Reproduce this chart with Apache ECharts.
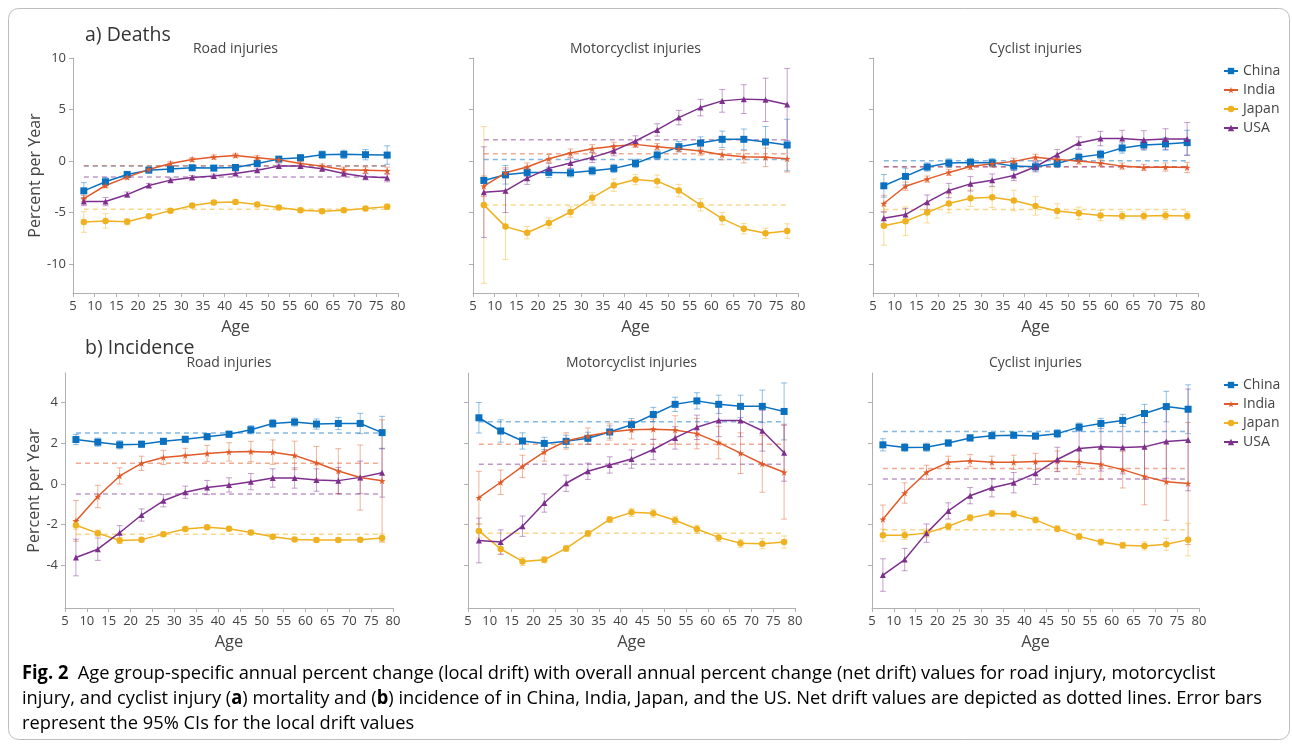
<!DOCTYPE html>
<html>
<head>
<meta charset="utf-8">
<script src="https://cdn.jsdelivr.net/npm/echarts@6/dist/echarts.min.js"></script>
<style>
  html, body { margin: 0; padding: 0; background: #fff; }
  #chart { width: 1292px; height: 747px; }
</style>
</head>
<body>
<div id="chart"></div>
<script>
// ---- data: age-group midpoints and tick labels ----
const ages = [7.5, 12.5, 17.5, 22.5, 27.5, 32.5, 37.5, 42.5, 47.5, 52.5, 57.5, 62.5, 67.5, 72.5, 77.5];
const countries = ['China', 'India', 'Japan', 'USA'];
const ageTicks = [5, 10, 15, 20, 25, 30, 35, 40, 45, 50, 55, 60, 65, 70, 75, 80];
const deathTicks = [-10, -5, 0, 5, 10];
const incidenceTicks = [-4, -2, 0, 2, 4];

// ---- a) Deaths: local drift (% per year) ----
const deathsRoadChina = [-2.89, -2.01, -1.30, -0.88, -0.78, -0.65, -0.68, -0.62, -0.23, 0.19, 0.32, 0.62, 0.65, 0.62, 0.58];
const deathsRoadIndia = [-3.64, -2.37, -1.56, -0.81, -0.23, 0.16, 0.39, 0.55, 0.32, 0.13, -0.23, -0.49, -0.84, -0.88, -0.94];
const deathsRoadJapan = [-5.91, -5.81, -5.88, -5.36, -4.81, -4.32, -4.03, -3.96, -4.22, -4.51, -4.77, -4.87, -4.77, -4.61, -4.42];
const deathsRoadUSA = [-3.93, -3.93, -3.25, -2.37, -1.85, -1.59, -1.46, -1.20, -0.88, -0.49, -0.49, -0.75, -1.20, -1.53, -1.62];
const deathsRoadChinaCI = [0.8, 0.4, 0.3, 0.25, 0.25, 0.25, 0.25, 0.25, 0.25, 0.25, 0.3, 0.35, 0.4, 0.5, 0.9];
const deathsRoadIndiaCI = [0.3, 0.2, 0.2, 0.2, 0.2, 0.2, 0.2, 0.2, 0.2, 0.2, 0.2, 0.2, 0.25, 0.3, 0.35];
const deathsRoadJapanCI = [1.0, 0.7, 0.3, 0.2, 0.2, 0.2, 0.2, 0.2, 0.2, 0.2, 0.2, 0.2, 0.2, 0.2, 0.25];
const deathsRoadUSACI = [0.4, 0.4, 0.25, 0.2, 0.2, 0.2, 0.2, 0.2, 0.2, 0.2, 0.2, 0.2, 0.25, 0.3, 0.4];
const deathsRoadNet = [-0.47, -0.45, -4.68, -1.55];

const deathsMotoChina = [-1.88, -1.33, -1.10, -1.10, -1.14, -0.94, -0.71, -0.23, 0.58, 1.40, 1.75, 2.11, 2.11, 1.85, 1.56];
const deathsMotoIndia = [-2.44, -1.14, -0.58, 0.23, 0.78, 1.20, 1.43, 1.62, 1.40, 1.20, 0.97, 0.62, 0.42, 0.36, 0.23];
const deathsMotoJapan = [-4.25, -6.36, -6.95, -6.01, -4.94, -3.57, -2.34, -1.79, -1.95, -2.86, -4.25, -5.58, -6.56, -7.01, -6.79];
const deathsMotoUSA = [-3.02, -2.89, -1.66, -0.71, -0.19, 0.36, 1.01, 1.95, 3.02, 4.22, 5.19, 5.84, 6.01, 5.94, 5.49];
const deathsMotoChinaCI = [0.3, 0.9, 0.4, 0.5, 0.4, 0.4, 0.4, 0.4, 0.4, 0.5, 0.6, 0.8, 1.0, 1.5, 2.5];
const deathsMotoIndiaCI = [1.0, 0.5, 0.4, 0.4, 0.4, 0.4, 0.4, 0.3, 0.3, 0.3, 0.4, 0.5, 0.6, 0.9, 1.3];
const deathsMotoJapanCI = [7.6, 3.2, 0.6, 0.5, 0.5, 0.5, 0.6, 0.5, 0.6, 0.6, 0.6, 0.6, 0.5, 0.5, 0.7];
const deathsMotoUSACI = [4.4, 2.1, 0.6, 0.5, 0.5, 0.5, 0.5, 0.5, 0.6, 0.7, 0.8, 1.1, 1.4, 2.1, 3.5];
const deathsMotoNet = [0.16, 0.71, -4.25, 2.08];

const deathsCycleChina = [-2.40, -1.49, -0.58, -0.19, -0.13, -0.16, -0.49, -0.55, -0.23, 0.36, 0.65, 1.27, 1.56, 1.66, 1.79];
const deathsCycleIndia = [-4.12, -2.44, -1.75, -1.10, -0.52, -0.26, -0.03, 0.36, 0.16, 0.00, -0.19, -0.49, -0.62, -0.58, -0.62];
const deathsCycleJapan = [-6.27, -5.84, -5.00, -4.12, -3.60, -3.51, -3.83, -4.35, -4.84, -5.06, -5.29, -5.32, -5.32, -5.29, -5.32];
const deathsCycleUSA = [-5.55, -5.19, -3.99, -2.86, -2.21, -1.85, -1.40, -0.55, 0.62, 1.75, 2.18, 2.18, 2.05, 2.14, 2.14];
const deathsCycleChinaCI = [1.1, 0.8, 0.4, 0.4, 0.4, 0.4, 0.4, 0.4, 0.4, 0.4, 0.4, 0.5, 0.5, 0.6, 1.2];
const deathsCycleIndiaCI = [0.8, 0.4, 0.3, 0.3, 0.3, 0.3, 0.3, 0.3, 0.3, 0.3, 0.3, 0.3, 0.3, 0.4, 0.5];
const deathsCycleJapanCI = [1.9, 1.4, 1.0, 0.9, 0.8, 1.0, 1.0, 0.9, 0.7, 0.6, 0.5, 0.4, 0.4, 0.4, 0.4];
const deathsCycleUSACI = [0.6, 0.6, 0.7, 0.7, 0.7, 0.6, 0.5, 0.5, 0.5, 0.6, 0.7, 0.8, 0.9, 1.0, 1.6];
const deathsCycleNet = [0.03, -0.55, -4.71, -0.55];

// ---- b) Incidence: local drift (% per year) ----
const incRoadChina = [2.18, 2.05, 1.92, 1.95, 2.09, 2.19, 2.32, 2.44, 2.66, 2.97, 3.04, 2.94, 2.97, 2.97, 2.52];
const incRoadIndia = [-1.82, -0.62, 0.39, 1.01, 1.30, 1.40, 1.49, 1.57, 1.59, 1.56, 1.40, 1.04, 0.63, 0.31, 0.15];
const incRoadJapan = [-2.03, -2.42, -2.78, -2.74, -2.47, -2.22, -2.13, -2.21, -2.39, -2.60, -2.73, -2.76, -2.76, -2.74, -2.66];
const incRoadUSA = [-3.62, -3.21, -2.40, -1.53, -0.83, -0.41, -0.18, -0.05, 0.11, 0.29, 0.29, 0.19, 0.16, 0.32, 0.55];
const incRoadChinaCI = [0.25, 0.2, 0.2, 0.15, 0.15, 0.15, 0.15, 0.15, 0.2, 0.2, 0.2, 0.25, 0.3, 0.5, 0.8];
const incRoadIndiaCI = [1.0, 0.55, 0.4, 0.35, 0.35, 0.35, 0.4, 0.45, 0.5, 0.6, 0.7, 0.8, 1.1, 1.6, 3.0];
const incRoadJapanCI = [0.2, 0.15, 0.15, 0.1, 0.1, 0.1, 0.1, 0.1, 0.1, 0.1, 0.1, 0.1, 0.1, 0.1, 0.2];
const incRoadUSACI = [0.9, 0.55, 0.35, 0.3, 0.3, 0.3, 0.35, 0.35, 0.4, 0.45, 0.5, 0.55, 0.65, 0.8, 1.2];
const incRoadNet = [2.50, 1.02, -2.47, -0.50];

const incMotoChina = [3.25, 2.60, 2.11, 1.99, 2.09, 2.24, 2.55, 2.91, 3.41, 3.91, 4.08, 3.91, 3.81, 3.81, 3.56];
const incMotoIndia = [-0.68, 0.08, 0.86, 1.57, 2.11, 2.35, 2.55, 2.66, 2.69, 2.65, 2.47, 2.03, 1.51, 0.99, 0.57];
const incMotoJapan = [-2.31, -3.20, -3.81, -3.73, -3.17, -2.44, -1.75, -1.40, -1.44, -1.79, -2.22, -2.63, -2.92, -2.94, -2.86];
const incMotoUSA = [-2.78, -2.86, -2.08, -0.94, 0.03, 0.62, 0.93, 1.22, 1.69, 2.26, 2.78, 3.12, 3.12, 2.61, 1.53];
const incMotoChinaCI = [0.75, 0.55, 0.4, 0.3, 0.3, 0.3, 0.3, 0.3, 0.35, 0.35, 0.4, 0.45, 0.55, 0.8, 1.4];
const incMotoIndiaCI = [1.3, 0.6, 0.55, 0.45, 0.4, 0.4, 0.4, 0.45, 0.5, 0.7, 0.75, 0.8, 1.0, 1.4, 2.3];
const incMotoJapanCI = [0.35, 0.25, 0.2, 0.15, 0.15, 0.15, 0.15, 0.2, 0.2, 0.2, 0.2, 0.2, 0.2, 0.25, 0.3];
const incMotoUSACI = [1.1, 0.6, 0.5, 0.45, 0.4, 0.4, 0.4, 0.45, 0.5, 0.55, 0.6, 0.8, 0.8, 1.0, 1.4];
const incMotoNet = [3.05, 1.95, -2.42, 0.96];

const incCycleChina = [1.92, 1.79, 1.80, 2.01, 2.26, 2.37, 2.39, 2.35, 2.47, 2.79, 2.97, 3.12, 3.46, 3.80, 3.67];
const incCycleIndia = [-1.74, -0.45, 0.57, 1.06, 1.14, 1.06, 1.06, 1.10, 1.12, 1.07, 0.96, 0.70, 0.37, 0.11, 0.02];
const incCycleJapan = [-2.52, -2.53, -2.42, -2.08, -1.67, -1.46, -1.48, -1.77, -2.21, -2.58, -2.86, -3.02, -3.05, -2.97, -2.74];
const incCycleUSA = [-4.48, -3.72, -2.42, -1.33, -0.58, -0.19, 0.06, 0.52, 1.20, 1.74, 1.83, 1.79, 1.82, 2.08, 2.16];
const incCycleChinaCI = [0.3, 0.2, 0.2, 0.15, 0.15, 0.15, 0.15, 0.15, 0.2, 0.2, 0.25, 0.3, 0.45, 0.75, 1.2];
const incCycleIndiaCI = [0.7, 0.5, 0.35, 0.3, 0.3, 0.3, 0.35, 0.4, 0.5, 0.6, 0.75, 0.9, 1.4, 1.9, 3.0];
const incCycleJapanCI = [0.3, 0.2, 0.2, 0.15, 0.15, 0.15, 0.15, 0.15, 0.15, 0.15, 0.15, 0.15, 0.2, 0.3, 0.8];
const incCycleUSACI = [0.8, 0.55, 0.45, 0.4, 0.4, 0.45, 0.5, 0.55, 0.6, 0.9, 1.2, 1.3, 1.6, 1.8, 2.5];
const incCycleNet = [2.58, 0.76, -2.26, 0.24];

// ---- panels ----
const panels = [
  { title: 'Road injuries', row: 0, col: 0,
    values: [deathsRoadChina, deathsRoadIndia, deathsRoadJapan, deathsRoadUSA],
    ci: [deathsRoadChinaCI, deathsRoadIndiaCI, deathsRoadJapanCI, deathsRoadUSACI], net: deathsRoadNet },
  { title: 'Motorcyclist injuries', row: 0, col: 1,
    values: [deathsMotoChina, deathsMotoIndia, deathsMotoJapan, deathsMotoUSA],
    ci: [deathsMotoChinaCI, deathsMotoIndiaCI, deathsMotoJapanCI, deathsMotoUSACI], net: deathsMotoNet },
  { title: 'Cyclist injuries', row: 0, col: 2,
    values: [deathsCycleChina, deathsCycleIndia, deathsCycleJapan, deathsCycleUSA],
    ci: [deathsCycleChinaCI, deathsCycleIndiaCI, deathsCycleJapanCI, deathsCycleUSACI], net: deathsCycleNet },
  { title: 'Road injuries', row: 1, col: 0,
    values: [incRoadChina, incRoadIndia, incRoadJapan, incRoadUSA],
    ci: [incRoadChinaCI, incRoadIndiaCI, incRoadJapanCI, incRoadUSACI], net: incRoadNet },
  { title: 'Motorcyclist injuries', row: 1, col: 1,
    values: [incMotoChina, incMotoIndia, incMotoJapan, incMotoUSA],
    ci: [incMotoChinaCI, incMotoIndiaCI, incMotoJapanCI, incMotoUSACI], net: incMotoNet },
  { title: 'Cyclist injuries', row: 1, col: 2,
    values: [incCycleChina, incCycleIndia, incCycleJapan, incCycleUSA],
    ci: [incCycleChinaCI, incCycleIndiaCI, incCycleJapanCI, incCycleUSACI], net: incCycleNet }
];

// ---- layout & style ----
const FONT = '"Open Sans", "Noto Sans", sans-serif';
const rows = [
  { top: 58, height: 235, min: -12.8, max: 10, ticks: deathTicks, lefts: [73, 473, 873], widths: [325, 325, 325], heading: 'a) Deaths', headY: 35, subY: 49 },
  { top: 373, height: 235, min: -6.1, max: 5.45, ticks: incidenceTicks, lefts: [65, 468, 872], widths: [328, 327, 327], heading: 'b) Incidence', headY: 348, subY: 363 }
];
const colors = { China: '#0a71c1', India: '#e15a28', Japan: '#efb120', USA: '#7e2f8e' };
const STAR = 'path://M50,0 L61,35 L98,35 L68,57 L79,91 L50,70 L21,91 L32,57 L2,35 L39,35 Z';
const symbols = {
  China: { symbol: 'rect', size: 7 },
  India: { symbol: STAR, size: 7 },
  Japan: { symbol: 'circle', size: 6.5 },
  USA: { symbol: 'triangle', size: 6 }
};

function errorBarRenderer(color) {
  return function (params, api) {
    const x = api.value(0);
    const lo = api.coord([x, api.value(1)]);
    const hi = api.coord([x, api.value(2)]);
    const h = 3;
    const st = { stroke: color, lineWidth: 1, opacity: 0.45 };
    return {
      type: 'group',
      children: [
        { type: 'line', shape: { x1: lo[0], y1: lo[1], x2: hi[0], y2: hi[1] }, style: st },
        { type: 'line', shape: { x1: hi[0] - h, y1: hi[1], x2: hi[0] + h, y2: hi[1] }, style: st },
        { type: 'line', shape: { x1: lo[0] - h, y1: lo[1], x2: lo[0] + h, y2: lo[1] }, style: st }
      ]
    };
  };
}

const grids = [], xAxes = [], yAxes = [], series = [], graphics = [];

panels.forEach((p, i) => {
  const r = rows[p.row];
  const left = r.lefts[p.col], width = r.widths[p.col];
  grids.push({ left: left, top: r.top, width: width, height: r.height, containLabel: false });
  xAxes.push({
    type: 'value', gridIndex: i, min: ageTicks[0], max: ageTicks[ageTicks.length - 1], interval: 5,
    name: 'Age', nameLocation: 'middle', nameGap: 26,
    nameTextStyle: { fontFamily: FONT, fontSize: 16.5, color: '#444' },
    axisLine: { show: true, onZero: false, lineStyle: { color: '#b0b0b0', width: 1 } },
    axisTick: { show: true, length: 4, lineStyle: { color: '#b0b0b0' } },
    axisLabel: { fontFamily: FONT, fontSize: 13, color: '#444', margin: 7, showMinLabel: true, showMaxLabel: true },
    splitLine: { show: false }
  });
  yAxes.push({
    type: 'value', gridIndex: i, min: r.min, max: r.max,
    name: p.col === 0 ? 'Percent per Year' : '', nameLocation: 'middle', nameRotate: 90,
    nameGap: left - 35 - 8,
    nameTextStyle: { fontFamily: FONT, fontSize: 16, color: '#444' },
    axisLine: { show: true, onZero: false, lineStyle: { color: '#b0b0b0', width: 1 } },
    axisTick: { show: true, length: 4, customValues: r.ticks, lineStyle: { color: '#b0b0b0' } },
    axisLabel: { show: p.col === 0, customValues: r.ticks, fontFamily: FONT, fontSize: 13, color: '#444', margin: 7 },
    splitLine: { show: false }
  });

  // net drift (dashed, full age span)
  countries.forEach((c, k) => {
    series.push({
      name: c + ' net drift', type: 'line', xAxisIndex: i, yAxisIndex: i,
      data: [[ages[0], p.net[k]], [ages[ages.length - 1], p.net[k]]],
      showSymbol: false, silent: true, z: 1,
      lineStyle: { color: colors[c], width: 1.5, type: [5, 4], opacity: 0.5 }
    });
  });

  // local drift with 95% CI
  countries.forEach((c, k) => {
    const vals = p.values[k], ci = p.ci[k];
    series.push({
      name: c + ' CI', type: 'custom', xAxisIndex: i, yAxisIndex: i, z: 2, silent: true,
      renderItem: errorBarRenderer(colors[c]),
      encode: { x: 0, y: [1, 2] },
      data: ages.map((a, j) => [a, vals[j] - ci[j], vals[j] + ci[j]])
    });
    series.push({
      name: c, type: 'line', xAxisIndex: i, yAxisIndex: i, z: 3,
      data: ages.map((a, j) => [a, vals[j]]),
      symbol: symbols[c].symbol, symbolSize: symbols[c].size, showAllSymbol: true,
      itemStyle: { color: colors[c] },
      lineStyle: { color: colors[c], width: 1.5 },
      emphasis: { disabled: true }
    });
  });

  graphics.push({
    type: 'text', x: left + width / 2, y: r.subY,
    style: { text: p.title, font: '14px ' + FONT, fill: '#444', align: 'center', verticalAlign: 'middle' }
  });
});

rows.forEach(r => {
  graphics.push({
    type: 'text', x: 85, y: r.headY,
    style: { text: r.heading, font: '19.5px ' + FONT, fill: '#333', align: 'left', verticalAlign: 'middle' }
  });
});

// ---- caption ----
const captionLines = [
  [['Fig. 2', true], ['  Age group-specific annual percent change (local drift) with overall annual percent change (net drift) values for road injury, motorcyclist', false]],
  [['injury, and cyclist injury (', false], ['a', true], [') mortality and (', false], ['b', true], [') incidence of in China, India, Japan, and the US. Net drift values are depicted as dotted lines. Error bars', false]],
  [['represent the 95% CIs for the local drift values', false]]
];
const CAP_FS = 19;
const CAP_FONT = '"Open Sans", "Noto Sans", sans-serif';
const ctx = document.createElement('canvas').getContext('2d');
function lineWidth(parts) {
  let w = 0;
  parts.forEach(([t, b]) => { ctx.font = (b ? 'bold ' : '') + CAP_FS + 'px ' + CAP_FONT; w += ctx.measureText(t).width; });
  return w;
}
const capScale = 1240 / lineWidth(captionLines[1]);
captionLines.forEach((parts, li) => {
  const text = parts.map(([t, b]) => b ? '{b|' + t + '}' : '{n|' + t + '}').join('');
  graphics.push({
    type: 'text', x: 22, y: 674 + li * 25, scaleX: capScale, originX: 0,
    style: {
      text: text, align: 'left', verticalAlign: 'middle',
      rich: {
        n: { fontFamily: CAP_FONT, fontSize: CAP_FS, color: '#222' },
        b: { fontFamily: CAP_FONT, fontSize: CAP_FS, fontWeight: 'bold', color: '#111' }
      }
    }
  });
});

graphics.push({
  type: 'rect', shape: { x: 8.5, y: 8.5, width: 1281, height: 731, r: 10 },
  style: { fill: 'none', stroke: '#bdbdbd', lineWidth: 1 }, z: -1
});

const legendBase = {
  orient: 'vertical', left: 1218, itemWidth: 14, itemHeight: 8, itemGap: 5,
  data: countries, selectedMode: false,
  textStyle: { fontFamily: FONT, fontSize: 14, color: '#444', lineHeight: 14 }
};

const chart = echarts.init(document.getElementById('chart'), null, { renderer: 'canvas' });
chart.setOption({
  animation: false,
  backgroundColor: '#fff',
  grid: grids,
  xAxis: xAxes,
  yAxis: yAxes,
  legend: [Object.assign({ top: 59 }, legendBase), Object.assign({ top: 373 }, legendBase)],
  series: series,
  graphic: graphics
});
</script>
</body>
</html>
